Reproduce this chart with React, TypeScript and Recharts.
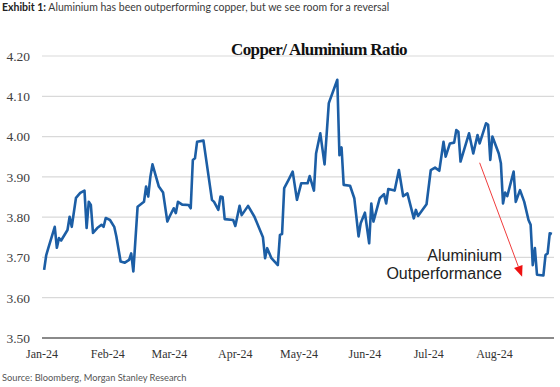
import { LineChart, Line, XAxis, YAxis, CartesianGrid, ReferenceLine } from "recharts";

// Copper / Aluminium ratio, 2024 (month-day)
const dates = [
  "01-02", "01-03", "01-04", "01-07", "01-08", "01-09", "01-10", "01-13", "01-14", "01-15",
  "01-17", "01-19", "01-21", "01-22", "01-23", "01-24", "01-25", "01-27", "01-29", "01-30",
  "01-31", "02-02", "02-04", "02-05", "02-07", "02-09", "02-11", "02-12", "02-13", "02-15",
  "02-18", "02-19", "02-20", "02-21", "02-22", "02-25", "02-27", "02-29", "03-01", "03-03",
  "03-04", "03-05", "03-07", "03-10", "03-11", "03-12", "03-13", "03-14", "03-17", "03-21",
  "03-22", "03-24", "03-25", "03-26", "03-27", "03-31", "04-01", "04-03", "04-04", "04-07",
  "04-10", "04-14", "04-15", "04-16", "04-18", "04-21", "04-22", "04-23", "04-24", "04-26",
  "04-28", "04-30", "05-02", "05-05", "05-06", "05-08", "05-09", "05-11", "05-13", "05-15",
  "05-19", "05-20", "05-21", "05-22", "05-25", "05-27", "05-29", "05-30", "06-01", "06-03",
  "06-04", "06-05", "06-08", "06-10", "06-11", "06-12", "06-15", "06-17", "06-19", "06-21",
  "06-24", "06-25", "06-26", "06-30", "07-02", "07-04", "07-06", "07-08", "07-09", "07-11",
  "07-13", "07-14", "07-15", "07-16", "07-20", "07-22", "07-24", "07-25", "07-28", "07-29",
  "07-30", "07-31", "08-03", "08-04", "08-05", "08-06", "08-07", "08-10", "08-11", "08-13",
  "08-15", "08-17", "08-18", "08-19", "08-20", "08-21", "08-24", "08-25", "08-26", "08-27",
  "08-28",
];

const ratio = [
  3.669, 3.706, 3.724, 3.776, 3.724, 3.748, 3.742, 3.768, 3.801, 3.776,
  3.848, 3.860, 3.866, 3.773, 3.838, 3.830, 3.761, 3.773, 3.781, 3.776,
  3.798, 3.793, 3.776, 3.752, 3.690, 3.687, 3.694, 3.710, 3.665, 3.826,
  3.838, 3.876, 3.851, 3.900, 3.931, 3.876, 3.861, 3.789, 3.801, 3.822,
  3.810, 3.838, 3.831, 3.830, 3.822, 3.942, 3.946, 3.987, 3.990, 3.843,
  3.838, 3.818, 3.851, 3.850, 3.795, 3.793, 3.778, 3.828, 3.805, 3.828,
  3.801, 3.750, 3.698, 3.723, 3.698, 3.681, 3.756, 3.758, 3.872, 3.892,
  3.913, 3.843, 3.884, 3.884, 3.902, 3.866, 3.958, 4.008, 3.931, 4.083,
  4.141, 3.954, 3.973, 3.880, 3.878, 3.847, 3.752, 3.785, 3.811, 3.735,
  3.834, 3.789, 3.847, 3.857, 3.834, 3.870, 3.866, 3.917, 3.852, 3.859,
  3.797, 3.818, 3.803, 3.832, 3.917, 3.923, 3.915, 3.987, 3.950, 3.983,
  3.985, 4.016, 4.012, 3.938, 4.008, 3.958, 4.004, 3.983, 4.033, 4.029,
  3.942, 4.000, 3.958, 3.934, 3.834, 3.861, 3.852, 3.913, 3.838, 3.867,
  3.838, 3.793, 3.781, 3.681, 3.723, 3.657, 3.655, 3.706, 3.710, 3.760,
  3.758,
];

const yTicks = [3.5, 3.6, 3.7, 3.8, 3.9, 4.0, 4.1, 4.2];
const monthStarts = ["01-01", "02-01", "03-01", "04-01", "05-01", "06-01", "07-01", "08-01"];
const monthLabels = ["Jan-24", "Feb-24", "Mar-24", "Apr-24", "May-24", "Jun-24", "Jul-24", "Aug-24"];

// annotation arrow (start / end in data units)
const arrowDates = ["07-25", "08-14"];
const arrowValues = [3.935, 3.652];

const toTime = (md: string) => Date.parse(`2024-${md}T00:00:00Z`);

const data = dates.map((d, i) => ({ t: toTime(d), ratio: ratio[i] }));
const monthTicks = monthStarts.map(toTime);

const ArrowShape = (props: any) => {
  const { x1, y1, x2, y2 } = props;
  const ang = Math.atan2(y2 - y1, x2 - x1);
  const len = 11;
  const half = 4.5;
  const bx = x2 - len * Math.cos(ang);
  const by = y2 - len * Math.sin(ang);
  const px = -Math.sin(ang) * half;
  const py = Math.cos(ang) * half;
  return (
    <g>
      <line x1={x1} y1={y1} x2={bx} y2={by} stroke="#f03c3c" strokeWidth={1} />
      <polygon points={`${x2},${y2} ${bx + px},${by + py} ${bx - px},${by - py}`} fill="#ee1111" />
    </g>
  );
};

export default function App() {
  return (
    <div
      style={{
        position: "absolute",
        left: 0,
        top: 0,
        width: 560,
        height: 387,
        background: "#fff",
        overflow: "hidden",
      }}
    >
      <div
        style={{
          position: "absolute",
          left: 2,
          top: 1,
          fontFamily: "Lato, sans-serif",
          fontSize: 10.5,
          color: "#3a3a3a",
          whiteSpace: "nowrap",
        }}
      >
        <b style={{ color: "#222" }}>Exhibit 1:</b> Aluminium has been outperforming copper, but we see room for a reversal
      </div>

      <LineChart width={560} height={387} data={data} margin={{ top: 56, right: 6, bottom: 19, left: 0 }}>
        <CartesianGrid vertical={false} stroke="#d9d9d9" strokeWidth={1.2} />
        <XAxis
          dataKey="t"
          type="number"
          domain={[toTime("01-01"), toTime("08-29")]}
          ticks={monthTicks}
          interval={0}
          tickFormatter={(v: number) => monthLabels[monthTicks.indexOf(v)] ?? ""}
          tickLine={false}
          axisLine={{ stroke: "#8a8a8a", strokeWidth: 2 }}
          tick={{ fill: "#333", fontSize: 12, fontFamily: "'Liberation Serif', serif" }}
          tickMargin={5}
          height={30}
        />
        <YAxis
          domain={[3.5, 4.2]}
          ticks={yTicks}
          interval={0}
          tickFormatter={(v: number) => v.toFixed(2)}
          tickLine={false}
          axisLine={false}
          tick={{ fill: "#404040", fontSize: 13.5, fontFamily: "'Liberation Serif', serif" }}
          tickMargin={6}
          width={42}
        />
        <Line
          type="linear"
          dataKey="ratio"
          stroke="#1c5ea5"
          strokeWidth={2.6}
          strokeLinejoin="round"
          dot={false}
          isAnimationActive={false}
        />
        <ReferenceLine
          segment={[
            { x: toTime(arrowDates[0]), y: arrowValues[0] },
            { x: toTime(arrowDates[1]), y: arrowValues[1] },
          ]}
          shape={ArrowShape}
          ifOverflow="visible"
        />
      </LineChart>

      <div
        style={{
          position: "absolute",
          left: 319,
          top: 40,
          transform: "translateX(-50%)",
          fontFamily: "'Liberation Serif', serif",
          fontWeight: "bold",
          fontSize: 17,
          letterSpacing: -0.6,
          color: "#111",
          whiteSpace: "nowrap",
          lineHeight: "20px",
        }}
      >
        Copper/ Aluminium Ratio
      </div>

      <div
        style={{
          position: "absolute",
          right: 58,
          top: 247,
          textAlign: "right",
          fontFamily: "'Liberation Sans', Arial, sans-serif",
          fontSize: 16,
          lineHeight: "18px",
          color: "#222",
        }}
      >
        Aluminium
        <br />
        Outperformance
      </div>

      <div
        style={{
          position: "absolute",
          left: 2,
          top: 372,
          fontFamily: "Lato, sans-serif",
          fontSize: 9.3,
          color: "#555",
          whiteSpace: "nowrap",
        }}
      >
        Source: Bloomberg, Morgan Stanley Research
      </div>
    </div>
  );
}
